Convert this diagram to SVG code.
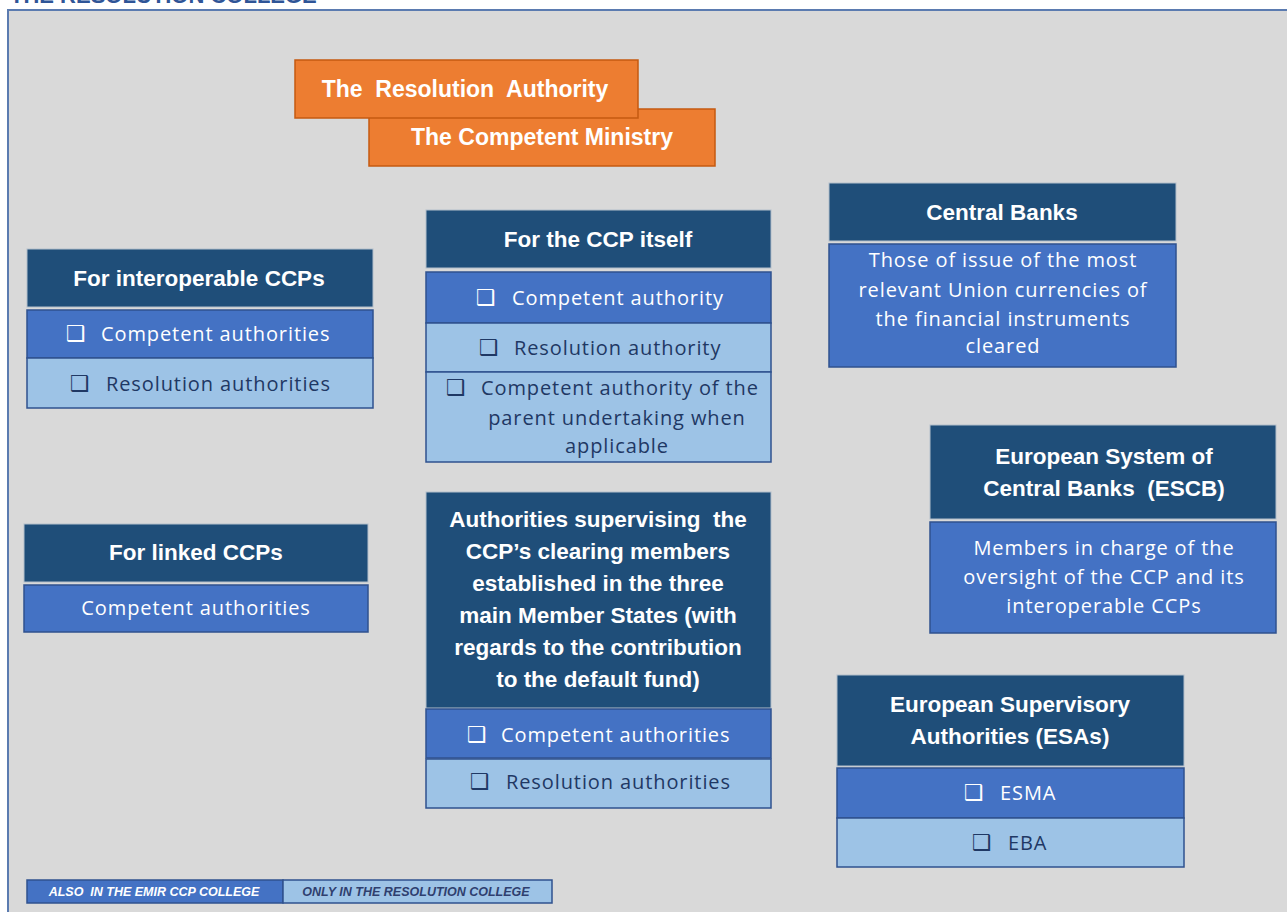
<svg xmlns="http://www.w3.org/2000/svg" width="1287" height="912" viewBox="0 0 1287 912">
<style>
.hdr{fill:#1f4e79;stroke:#b4bfcc;stroke-width:1}
.med{fill:#4472c4;stroke:#2f528f;stroke-width:1.5}
.lt{fill:#9dc3e6;stroke:#2f528f;stroke-width:1.5}
.org{fill:#ed7d31;stroke:#c55a11;stroke-width:1.5}
.ht{font-family:"Liberation Sans",Arial,sans-serif;font-weight:bold;font-size:22.5px;fill:#ffffff;text-anchor:middle}
.wt{font-family:"Open Sans","Liberation Sans",sans-serif;font-size:20px;letter-spacing:0.9px;fill:#ffffff}
.dt{font-family:"Open Sans","Liberation Sans",sans-serif;font-size:20px;letter-spacing:0.9px;fill:#1f3864}
.c{text-anchor:middle}
.cbw{font-family:"DejaVu Sans",sans-serif;font-size:22px;fill:#ffffff}
.cbd{font-family:"DejaVu Sans",sans-serif;font-size:22px;fill:#1f3864}
.ot{font-family:"Liberation Sans",Arial,sans-serif;font-weight:bold;font-size:23px;fill:#ffffff;text-anchor:middle}
.lg{font-family:"Liberation Sans",Arial,sans-serif;font-weight:bold;font-style:italic;font-size:12.5px}
</style>
<rect x="0" y="0" width="1287" height="912" fill="#ffffff"/>
<text x="10" y="3" font-family="Liberation Sans,Arial,sans-serif" font-weight="bold" font-size="22" fill="#2f5597">THE RESOLUTION COLLEGE</text>
<rect id="frame" x="8" y="10" width="1290" height="920" fill="#d9d9d9" stroke="#5b7bb0" stroke-width="2"/>

<g id="competent-ministry">
<rect class="org" x="369" y="109" width="346" height="57"/>
<text class="ot" x="542" y="145">The Competent Ministry</text>
</g>
<g id="resolution-authority">
<rect class="org" x="295" y="60" width="343" height="58"/>
<text class="ot" x="465" y="97" xml:space="preserve">The  Resolution  Authority</text>
</g>

<g id="interoperable">
<rect class="hdr" x="27" y="249" width="346" height="58"/>
<text class="ht" x="199" y="286">For interoperable CCPs</text>
<rect class="med" x="27" y="310" width="346" height="48"/>
<text class="cbw" x="66" y="341">❑</text>
<text class="wt" x="101" y="341">Competent authorities</text>
<rect class="lt" x="27" y="358" width="346" height="50"/>
<text class="cbd" x="70" y="391">❑</text>
<text class="dt" x="106" y="391">Resolution authorities</text>
</g>

<g id="linked">
<rect class="hdr" x="24" y="524" width="344" height="58"/>
<text class="ht" x="196" y="560">For linked CCPs</text>
<rect class="med" x="24" y="585" width="344" height="47"/>
<text class="wt c" x="196" y="615">Competent authorities</text>
</g>

<g id="ccp-itself">
<rect class="hdr" x="426" y="210" width="345" height="58"/>
<text class="ht" x="598" y="247">For the CCP itself</text>
<rect class="med" x="426" y="272" width="345" height="51"/>
<text class="cbw" x="476" y="305">❑</text>
<text class="wt" x="512" y="305">Competent authority</text>
<rect class="lt" x="426" y="323" width="345" height="49"/>
<text class="cbd" x="479" y="355">❑</text>
<text class="dt" x="514" y="355">Resolution authority</text>
<rect class="lt" x="426" y="372" width="345" height="90"/>
<text class="cbd" x="446" y="395">❑</text>
<text class="dt" x="481" y="395">Competent authority of the</text>
<text class="dt c" x="617" y="425">parent undertaking when</text>
<text class="dt c" x="617" y="453">applicable</text>
</g>

<g id="clearing-members">
<rect class="hdr" x="426" y="492" width="345" height="216"/>
<text class="ht" x="598" y="527" xml:space="preserve">Authorities supervising  the</text>
<text class="ht" x="598" y="559">CCP’s clearing members</text>
<text class="ht" x="598" y="591">established in the three</text>
<text class="ht" x="598" y="623">main Member States (with</text>
<text class="ht" x="598" y="655">regards to the contribution</text>
<text class="ht" x="598" y="687">to the default fund)</text>
<rect class="med" x="426" y="709" width="345" height="49"/>
<text class="cbw" x="467" y="742">❑</text>
<text class="wt" x="501" y="742">Competent authorities</text>
<rect class="lt" x="426" y="759" width="345" height="49"/>
<text class="cbd" x="470" y="789">❑</text>
<text class="dt" x="506" y="789">Resolution authorities</text>
</g>

<g id="central-banks">
<rect class="hdr" x="829" y="183" width="347" height="58"/>
<text class="ht" x="1002" y="220">Central Banks</text>
<rect class="med" x="829" y="244" width="347" height="123"/>
<text class="wt c" x="1003" y="267">Those of issue of the most</text>
<text class="wt c" x="1003" y="297">relevant Union currencies of</text>
<text class="wt c" x="1003" y="326">the financial instruments</text>
<text class="wt c" x="1003" y="353">cleared</text>
</g>

<g id="escb">
<rect class="hdr" x="930" y="425" width="346" height="94"/>
<text class="ht" x="1104" y="464">European System of</text>
<text class="ht" x="1104" y="496" xml:space="preserve">Central Banks  (ESCB)</text>
<rect class="med" x="930" y="522" width="346" height="111"/>
<text class="wt c" x="1104" y="555">Members in charge of the</text>
<text class="wt c" x="1104" y="584">oversight of the CCP and its</text>
<text class="wt c" x="1104" y="613">interoperable CCPs</text>
</g>

<g id="esas">
<rect class="hdr" x="837" y="675" width="347" height="91"/>
<text class="ht" x="1010" y="712">European Supervisory</text>
<text class="ht" x="1010" y="744">Authorities (ESAs)</text>
<rect class="med" x="837" y="768" width="347" height="50"/>
<text class="cbw" x="964" y="800">❑</text>
<text class="wt" x="1000" y="800">ESMA</text>
<rect class="lt" x="837" y="818" width="347" height="49"/>
<text class="cbd" x="972" y="850">❑</text>
<text class="dt" x="1008" y="850">EBA</text>
</g>

<g id="legend">
<rect x="27" y="880" width="256" height="23" fill="#4472c4" stroke="#2f528f" stroke-width="1.5"/>
<rect x="283" y="880" width="269" height="23" fill="#9dc3e6" stroke="#2f528f" stroke-width="1.5"/>
<text class="lg" x="154" y="896" text-anchor="middle" fill="#ffffff" xml:space="preserve">ALSO  IN THE EMIR CCP COLLEGE</text>
<text class="lg" x="416" y="896" text-anchor="middle" fill="#2f3f6f">ONLY IN THE RESOLUTION COLLEGE</text>
</g>
<g id="connectors"/>
</svg>
